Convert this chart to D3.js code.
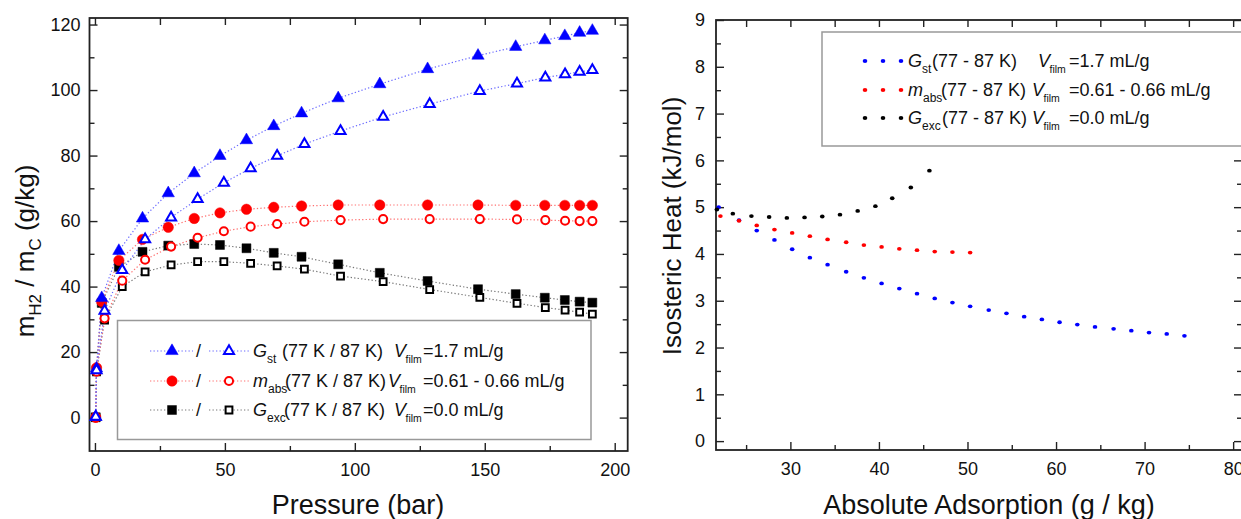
<!DOCTYPE html>
<html>
<head>
<meta charset="utf-8">
<script src="https://cdn.jsdelivr.net/npm/d3@7"></script>
<style>
body { margin: 0; background: #fff; }
svg text { font-family: "Liberation Sans", Arial, sans-serif; fill: #111; }
</style>
</head>
<body>
<div id="chart"></div>
<script>
// ---- left panel: H2 uptake vs pressure (filled = 77 K, open = 87 K)
const p77 = [0.3, 0.6, 2.6, 9.2, 18.3, 28.2, 38.2, 48.1, 58.3, 68.8, 79.5, 93.6, 109.6, 128.0, 147.4, 161.9, 173.1, 180.8, 186.5, 191.4]
const p87 = [0.3, 0.6, 3.7, 10.5, 19.3, 29.3, 39.5, 49.6, 59.9, 70.1, 80.6, 94.5, 110.9, 128.8, 148.1, 162.4, 173.3, 180.9, 186.5, 191.4]
const gst77 = [0.2, 15.0, 36.5, 50.9, 60.8, 68.5, 74.6, 79.9, 84.7, 89.0, 92.9, 97.5, 101.8, 106.4, 110.5, 113.2, 115.2, 116.5, 117.5, 118.1]
const gst87 = [0.2, 14.4, 32.6, 45.0, 54.4, 61.1, 66.7, 71.7, 76.1, 79.9, 83.5, 87.5, 91.8, 95.7, 99.7, 102.0, 103.8, 104.8, 105.6, 106.1]
const mabs77 = [0.1, 15.2, 35.4, 48.0, 54.4, 58.1, 60.8, 62.5, 63.6, 64.2, 64.6, 64.9, 64.9, 64.9, 64.9, 64.8, 64.8, 64.8, 64.8, 64.8]
const mabs87 = [0.0, 14.0, 30.3, 41.8, 48.2, 52.2, 54.9, 56.9, 58.3, 59.1, 59.8, 60.3, 60.6, 60.6, 60.6, 60.5, 60.3, 60.1, 60.0, 60.0]
const gexc77 = [0.1, 14.5, 35.0, 46.0, 50.6, 52.5, 53.0, 52.7, 51.7, 50.3, 49.1, 46.8, 44.2, 41.7, 39.2, 37.7, 36.6, 35.9, 35.4, 35.1]
const gexc87 = [0.0, 14.0, 29.8, 40.0, 44.5, 46.6, 47.6, 47.6, 47.1, 46.3, 45.3, 43.2, 41.5, 39.1, 36.7, 34.9, 33.6, 32.8, 32.2, 31.6]

// ---- right panel: isosteric heat vs absolute adsorption
const gstAds = [21.9, 24.2, 26.2, 28.2, 30.2, 32.2, 34.2, 36.3, 38.3, 40.3, 42.3, 44.3, 46.3, 48.3, 50.3, 52.4, 54.4, 56.4, 58.4, 60.4, 62.4, 64.4, 66.5, 68.5, 70.5, 72.5, 74.5]
const gstHeat = [5.00, 4.72, 4.50, 4.30, 4.10, 3.92, 3.77, 3.62, 3.49, 3.37, 3.26, 3.15, 3.05, 2.96, 2.88, 2.80, 2.73, 2.66, 2.60, 2.54, 2.49, 2.44, 2.40, 2.36, 2.32, 2.29, 2.25]
const mabsAds = [22.1, 24.2, 26.2, 28.2, 30.2, 32.2, 34.2, 36.3, 38.3, 40.3, 42.3, 44.3, 46.3, 48.3, 50.3]
const mabsHeat = [4.81, 4.71, 4.61, 4.52, 4.45, 4.38, 4.31, 4.25, 4.19, 4.15, 4.11, 4.08, 4.05, 4.04, 4.03]
const gexcAds = [21.7, 23.5, 25.6, 27.6, 29.6, 31.6, 33.6, 35.6, 37.6, 39.6, 41.5, 43.6, 45.7]
const gexcHeat = [4.95, 4.86, 4.81, 4.79, 4.77, 4.78, 4.80, 4.84, 4.92, 5.02, 5.19, 5.42, 5.78]

// ticks
const xTicksL = [0, 50, 100, 150, 200]
const xMinorL = [25, 75, 125, 175]
const yTicksL = [0, 20, 40, 60, 80, 100, 120]
const yMinorL = [10, 30, 50, 70, 90, 110]
const xTicksR = [30, 40, 50, 60, 70, 80]
const xMinorR = [25, 35, 45, 55, 65, 75]
const yTicksR = [0, 1, 2, 3, 4, 5, 6, 7, 8, 9]
const yMinorR = [0.5, 1.5, 2.5, 3.5, 4.5, 5.5, 6.5, 7.5, 8.5]

const width = 1241
const height = 519
const svg = d3.select("#chart").append("svg")
    .attr("width", width)
    .attr("height", height)

const xL = d3.scaleLinear().domain([-2.1, 205]).range([89.5, 627.7])
const yL = d3.scaleLinear().domain([-10.2, 122]).range([451, 18])
const xR = d3.scaleLinear().domain([21.6, 81]).range([716, 1242])
const yR = d3.scaleLinear().domain([-0.19, 9]).range([450, 20])

// frame with inward ticks on all four sides
function drawFrame(x, y, xMaj, xMin, yMaj, yMin, yPad) {
    const [x0, x1] = x.range()
    const [y0, y1] = y.range()  // y0 bottom, y1 top
    const clean = g => {
        g.select(".domain").remove()
        g.selectAll("line").attr("stroke", "#222").attr("stroke-width", 1.4)
        g.attr("font-size", 18).attr("font-family", null)
    }
    svg.append("g").attr("transform", `translate(0,${y0})`)
        .call(d3.axisBottom(x).tickValues(xMaj).tickSize(-8).tickPadding(12)).call(clean)
    svg.append("g").attr("transform", `translate(0,${y0})`)
        .call(d3.axisBottom(x).tickValues(xMin).tickSize(-5).tickFormat("")).call(clean)
    svg.append("g").attr("transform", `translate(0,${y1})`)
        .call(d3.axisTop(x).tickValues(xMaj.concat(xMin)).tickSize(-7).tickFormat("")).call(clean)
    svg.append("g").attr("transform", `translate(${x0},0)`)
        .call(d3.axisLeft(y).tickValues(yMaj).tickSize(-8).tickPadding(yPad)).call(clean)
    svg.append("g").attr("transform", `translate(${x0},0)`)
        .call(d3.axisLeft(y).tickValues(yMin).tickSize(-5).tickFormat("")).call(clean)
    svg.append("g").attr("transform", `translate(${x1},0)`)
        .call(d3.axisRight(y).tickValues(yMaj).tickSize(-8).tickFormat("")).call(clean)
    svg.append("g").attr("transform", `translate(${x1},0)`)
        .call(d3.axisRight(y).tickValues(yMin).tickSize(-5).tickFormat("")).call(clean)
    svg.append("rect")
        .attr("x", x0).attr("y", y1)
        .attr("width", x1 - x0).attr("height", y0 - y1)
        .attr("fill", "none").attr("stroke", "#222").attr("stroke-width", 1.8)
}

drawFrame(xL, yL, xTicksL, xMinorL, yTicksL, yMinorL, 9)
drawFrame(xR, yR, xTicksR, xMinorR, yTicksR, yMinorR, 11)

// ---- left panel series
const symTri = d3.symbol().type(d3.symbolTriangle)
const symCirc = d3.symbol().type(d3.symbolCircle)
const symSq = d3.symbol().type(d3.symbolSquare)

const leftSeries = [
    { p: p77, v: gexc77, color: "#000", line: "#777", sym: symSq, size: 80, filled: true },
    { p: p87, v: gexc87, color: "#000", line: "#777", sym: symSq, size: 46, filled: false },
    { p: p77, v: mabs77, color: "#ff0000", line: "#ff7070", sym: symCirc, size: 85, filled: true },
    { p: p87, v: mabs87, color: "#ff0000", line: "#ff7070", sym: symCirc, size: 52, filled: false },
    { p: p77, v: gst77, color: "#0000ff", line: "#6a6aff", sym: symTri, size: 66, filled: true },
    { p: p87, v: gst87, color: "#0000ff", line: "#6a6aff", sym: symTri, size: 44, filled: false }
]

const lineL = d3.line().x(d => xL(d[0])).y(d => yL(d[1]))
leftSeries.forEach(function (s) {
    const pts = s.p.map((p, i) => [p, s.v[i]])
    svg.append("path")
        .datum(pts)
        .attr("d", lineL)
        .attr("fill", "none")
        .attr("stroke", s.line)
        .attr("stroke-width", 1.2)
        .attr("stroke-dasharray", "1.3 2.2")
})
leftSeries.forEach(function (s) {
    const pts = s.p.map((p, i) => [p, s.v[i]])
    svg.append("g")
        .selectAll("path")
        .data(pts)
        .join("path")
        .attr("transform", d => `translate(${xL(d[0])},${yL(d[1])})`)
        .attr("d", s.sym.size(s.size))
        .attr("fill", s.filled ? s.color : "#fff")
        .attr("stroke", s.color)
        .attr("stroke-width", s.filled ? 0.5 : 2)
})

// ---- right panel series (dotted curves)
const rightSeries = [
    { x: gstAds, y: gstHeat, color: "#0000ff" },
    { x: mabsAds, y: mabsHeat, color: "#ff0000" },
    { x: gexcAds, y: gexcHeat, color: "#000" }
]
rightSeries.forEach(function (s) {
    svg.append("g")
        .selectAll("ellipse")
        .data(s.x.map((a, i) => [a, s.y[i]]))
        .join("ellipse")
        .attr("cx", d => xR(d[0]))
        .attr("cy", d => yR(d[1]))
        .attr("rx", 2.3)
        .attr("ry", 1.9)
        .attr("fill", s.color)
})

// ---- text helper: pieces placed at given x on one baseline
function label(g, y, parts) {
    parts.forEach(function (p) {
        g.append("text")
            .attr("x", p.x)
            .attr("y", p.sub ? y + 6 : y)
            .attr("font-size", p.sub ? (p.small ? 10.5 : 12) : 18)
            .attr("font-style", p.it ? "italic" : null)
            .text(p.t)
    })
}

// ---- left legend
const legL = svg.append("g")
legL.append("rect")
    .attr("x", 117.5).attr("y", 320.5).attr("width", 473.5).attr("height", 119)
    .attr("fill", "#fff").attr("stroke", "#999").attr("stroke-width", 1.5)

const legRowsL = [
    { y: 351, sym: symTri, big: 66, small: 44, color: "#0000ff", line: "#6a6aff",
      name: "G", sub: "st", temp: "(77 K / 87 K)", tx: 282, vx: 394, val: "=1.7 mL/g" },
    { y: 381, sym: symCirc, big: 85, small: 52, color: "#ff0000", line: "#ff7070",
      name: "m", sub: "abs", temp: "(77 K / 87 K)", tx: 285, vx: 388, val: "=0.61 - 0.66 mL/g" },
    { y: 410, sym: symSq, big: 80, small: 46, color: "#000", line: "#777",
      name: "G", sub: "exc", temp: "(77 K / 87 K)", tx: 284, vx: 394, val: "=0.0 mL/g" }
]
legRowsL.forEach(function (r) {
    [[150, 193], [209, 251]].forEach(function (seg) {
        legL.append("line")
            .attr("x1", seg[0]).attr("x2", seg[1]).attr("y1", r.y).attr("y2", r.y)
            .attr("stroke", r.line).attr("stroke-width", 1.2).attr("stroke-dasharray", "1.3 2.2")
    })
    legL.append("path").attr("transform", `translate(172,${r.y})`)
        .attr("d", r.sym.size(r.big)).attr("fill", r.color).attr("stroke", r.color).attr("stroke-width", 0.5)
    legL.append("path").attr("transform", `translate(229,${r.y})`)
        .attr("d", r.sym.size(r.small)).attr("fill", "#fff").attr("stroke", r.color).attr("stroke-width", 2)
    const base = r.y + 6
    label(legL, base, [
        { x: 196, t: "/" },
        { x: 253, t: r.name, it: true },
        { x: r.name == "m" ? 268 : 267, t: r.sub, sub: true },
        { x: r.tx, t: r.temp },
        { x: r.vx, t: "V", it: true },
        { x: r.vx + 11.5, t: "film", sub: true, small: true },
        { x: 423, t: r.val }
    ])
})

// ---- right legend
const legR = svg.append("g")
legR.append("rect")
    .attr("x", 822).attr("y", 32).attr("width", 440).attr("height", 114)
    .attr("fill", "#fff").attr("stroke", "#999").attr("stroke-width", 1.5)

const legRowsR = [
    { y: 61, color: "#0000ff", name: "G", sub: "st", tx: 932, vx: 1038, val: "=1.7 mL/g" },
    { y: 90, color: "#ff0000", name: "m", sub: "abs", tx: 941, vx: 1032, val: "=0.61 - 0.66 mL/g" },
    { y: 118, color: "#000", name: "G", sub: "exc", tx: 942, vx: 1032, val: "=0.0 mL/g" }
]
legRowsR.forEach(function (r) {
    legR.selectAll(null)
        .data([865, 883, 901])
        .join("ellipse")
        .attr("cx", d => d).attr("cy", r.y)
        .attr("rx", 2.3).attr("ry", 1.9)
        .attr("fill", r.color)
    label(legR, r.y + 6, [
        { x: 908, t: r.name, it: true },
        { x: r.name == "m" ? 923 : 922, t: r.sub, sub: true },
        { x: r.tx, t: "(77 - 87 K)" },
        { x: r.vx, t: "V", it: true },
        { x: r.vx + 11.5, t: "film", sub: true, small: true },
        { x: 1069, t: r.val }
    ])
})

// ---- axis titles
svg.append("text")
    .attr("x", 358).attr("y", 514)
    .attr("text-anchor", "middle").attr("font-size", 27)
    .text("Pressure (bar)")
svg.append("text")
    .attr("x", 989).attr("y", 514)
    .attr("text-anchor", "middle").attr("font-size", 27)
    .text("Absolute Adsorption (g / kg)")

const yt = svg.append("text")
    .attr("transform", "translate(34,251) rotate(-90)")
    .attr("text-anchor", "middle").attr("font-size", 26)
yt.append("tspan").text("m")
yt.append("tspan").attr("dy", 7).attr("font-size", 17).text("H2")
yt.append("tspan").attr("dy", -7).text(" / m")
yt.append("tspan").attr("dy", 7).attr("font-size", 17).text("C")
yt.append("tspan").attr("dy", -7).text(" (g/kg)")

svg.append("text")
    .attr("transform", "translate(681,226) rotate(-90)")
    .attr("text-anchor", "middle").attr("font-size", 26)
    .text("Isosteric Heat (kJ/mol)")
</script>
</body>
</html>
